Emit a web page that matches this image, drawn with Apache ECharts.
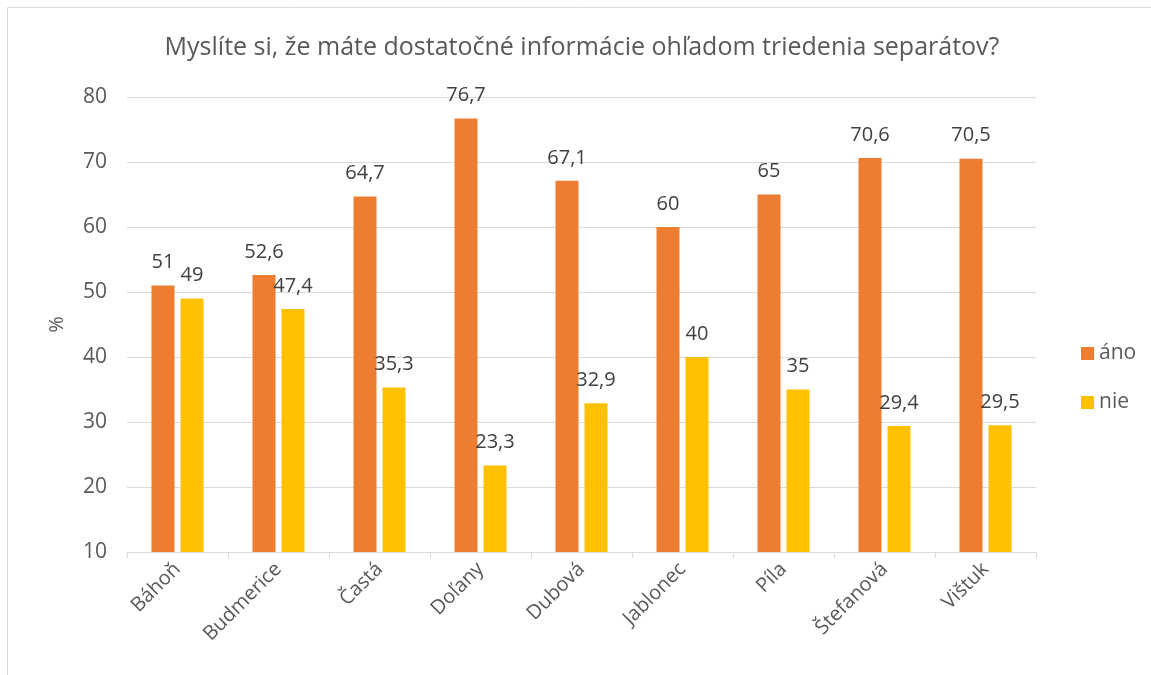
<!DOCTYPE html>
<html><head><meta charset="utf-8">
<script src="https://cdn.jsdelivr.net/npm/echarts@6/dist/echarts.min.js"></script>
<style>html,body{margin:0;padding:0;background:#fff}#c{width:1151px;height:675px}</style>
</head><body><div id="c"></div>
<script>
const categories = ['Báhoň','Budmerice','Častá','Doľany','Dubová','Jablonec','Píla','Štefanová','Vištuk'];
const anoValues = [51, 52.6, 64.7, 76.7, 67.1, 60, 65, 70.6, 70.5];
const nieValues = [49, 47.4, 35.3, 23.3, 32.9, 40, 35, 29.4, 29.5];
const seriesNames = ['áno', 'nie'];
const titleText = 'Myslíte si, že máte dostatočné informácie ohľadom triedenia separátov?';

const FONT = '"Open Sans", sans-serif';
const chart = echarts.init(document.getElementById('c'), null, {renderer: 'canvas'});
const lbl = {show: true, position: 'top', distance: 13, color: '#404040', fontSize: 20, fontFamily: FONT,
  formatter: p => String(p.value).replace('.', ',')};
chart.setOption({
  animation: false,
  backgroundColor: '#fff',
  title: {text: titleText, left: 577, textAlign: 'center', top: 30,
    textStyle: {fontFamily: FONT, fontSize: 25, fontWeight: 'normal', color: '#595959'}},
  legend: {orient: 'vertical', left: 1076, top: 338, itemWidth: 13, itemHeight: 13, itemGap: 28,
    icon: 'rect', textStyle: {fontFamily: FONT, fontSize: 21, color: '#595959'}, data: seriesNames},
  grid: {left: 127, right: 115, top: 97, bottom: 123, containLabel: false},
  xAxis: {type: 'category', data: categories,
    axisLine: {lineStyle: {color: '#d9d9d9', width: 1}},
    axisTick: {show: true, length: 6, lineStyle: {color: '#d9d9d9'}},
    axisLabel: {rotate: 45, fontFamily: FONT, fontSize: 20, color: '#595959', margin: 14}},
  yAxis: {type: 'value', min: 10, max: 80, interval: 10, name: '%', nameLocation: 'middle', nameGap: 60,
    nameTextStyle: {fontFamily: FONT, fontSize: 20, color: '#595959'},
    axisLine: {show: false}, axisTick: {show: false},
    axisLabel: {fontFamily: FONT, fontSize: 21, color: '#595959', margin: 20},
    splitLine: {lineStyle: {color: '#d9d9d9', width: 1}}},
  series: [
    {name: seriesNames[0], type: 'bar', data: anoValues, barWidth: 23, barGap: '26%',
      itemStyle: {color: '#ED7D31'}, label: lbl},
    {name: seriesNames[1], type: 'bar', data: nieValues, barWidth: 23, barGap: '26%',
      itemStyle: {color: '#FFC000'}, label: lbl}
  ],
  graphic: [{type: 'rect', shape: {x: 7.5, y: 7.5, width: 1200, height: 700}, silent: true,
    style: {fill: 'none', stroke: '#d9d9d9', lineWidth: 1}}]
});
</script></body></html>
